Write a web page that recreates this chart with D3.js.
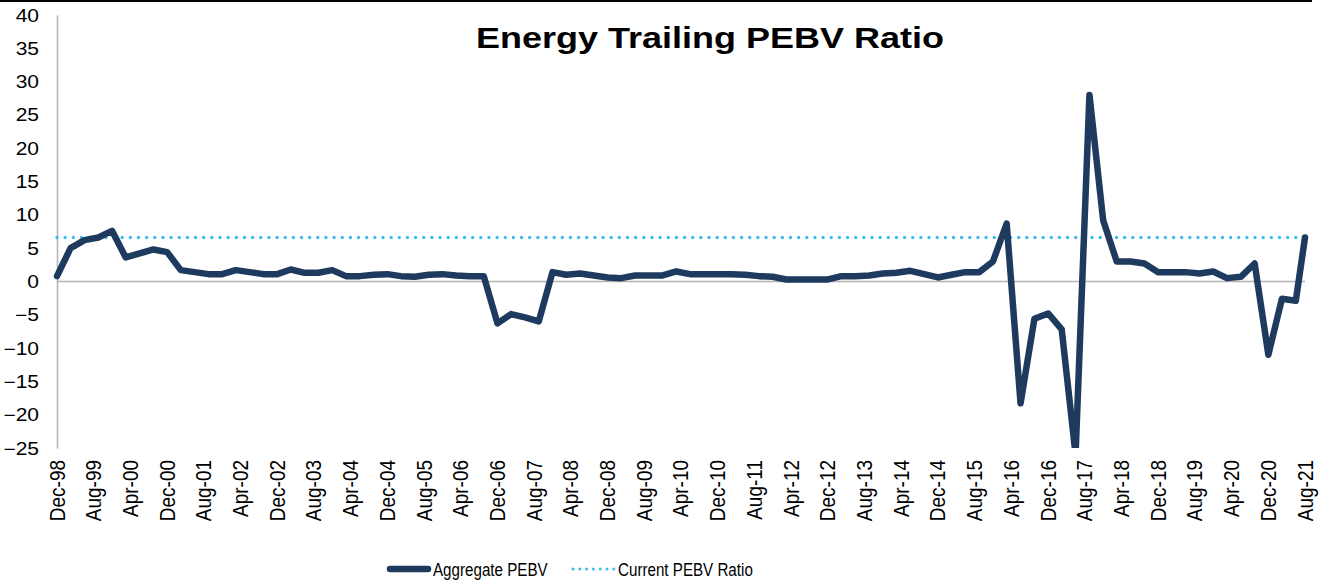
<!DOCTYPE html>
<html>
<head>
<meta charset="utf-8">
<script src="https://cdn.jsdelivr.net/npm/d3@7"></script>
<style>
  html, body { margin: 0; padding: 0; background: #fff; }
  svg { display: block; }
  text { font-family: "Liberation Sans", Arial, sans-serif; fill: #000; }
</style>
</head>
<body>
<svg id="chart" width="1323" height="581"></svg>
<script>
// ---- Data ----
const periods = [
  "Dec-98","Mar-99","Jun-99","Sep-99","Dec-99","Mar-00","Jun-00","Sep-00",
  "Dec-00","Mar-01","Jun-01","Sep-01","Dec-01","Mar-02","Jun-02","Sep-02",
  "Dec-02","Mar-03","Jun-03","Sep-03","Dec-03","Mar-04","Jun-04","Sep-04",
  "Dec-04","Mar-05","Jun-05","Sep-05","Dec-05","Mar-06","Jun-06","Sep-06",
  "Dec-06","Mar-07","Jun-07","Sep-07","Dec-07","Mar-08","Jun-08","Sep-08",
  "Dec-08","Mar-09","Jun-09","Sep-09","Dec-09","Mar-10","Jun-10","Sep-10",
  "Dec-10","Mar-11","Jun-11","Sep-11","Dec-11","Mar-12","Jun-12","Sep-12",
  "Dec-12","Mar-13","Jun-13","Sep-13","Dec-13","Mar-14","Jun-14","Sep-14",
  "Dec-14","Mar-15","Jun-15","Sep-15","Dec-15","Mar-16","Jun-16","Sep-16",
  "Dec-16","Mar-17","Jun-17","Sep-17","Dec-17","Mar-18","Jun-18","Sep-18",
  "Dec-18","Mar-19","Jun-19","Sep-19","Dec-19","Mar-20","Jun-20","Sep-20",
  "Dec-20","Mar-21","Jun-21","Aug-21"
];
const aggregatePEBV = [
  0.8, 5.0, 6.2, 6.6, 7.6, 3.6, 4.2, 4.8,
  4.4, 1.7, 1.4, 1.1, 1.1, 1.7, 1.4, 1.1,
  1.1, 1.8, 1.3, 1.3, 1.7, 0.8, 0.8, 1.0,
  1.1, 0.8, 0.7, 1.0, 1.1, 0.9, 0.8, 0.8,
  -6.3, -4.9, -5.4, -6.0, 1.4, 1.0, 1.2, 0.9,
  0.6, 0.5, 0.9, 0.9, 0.9, 1.5, 1.1, 1.1,
  1.1, 1.1, 1.0, 0.8, 0.7, 0.3, 0.3, 0.3,
  0.3, 0.8, 0.8, 0.9, 1.2, 1.3, 1.6, 1.1,
  0.6, 1.0, 1.4, 1.4, 3.0, 8.7, -18.3, -5.6,
  -4.8, -7.2, -26.0, 28.0, 9.2, 3.0, 3.0, 2.7,
  1.4, 1.4, 1.4, 1.2, 1.5, 0.5, 0.7, 2.7,
  -11.0, -2.6, -2.9, 6.6
];
const currentPEBV = 6.6;
const tickLabels = [
  "Dec-98","Aug-99","Apr-00","Dec-00","Aug-01","Apr-02","Dec-02","Aug-03",
  "Apr-04","Dec-04","Aug-05","Apr-06","Dec-06","Aug-07","Apr-08","Dec-08",
  "Aug-09","Apr-10","Dec-10","Aug-11","Apr-12","Dec-12","Aug-13","Apr-14",
  "Dec-14","Aug-15","Apr-16","Dec-16","Aug-17","Apr-18","Dec-18","Aug-19",
  "Apr-20","Dec-20","Aug-21"
];
const yTicks = [40, 35, 30, 25, 20, 15, 10, 5, 0, -5, -10, -15, -20, -25];
const title = "Energy Trailing PEBV Ratio";
const legendLabels = ["Aggregate PEBV", "Current PEBV Ratio"];

// ---- Setup ----
const parse = d3.timeParse("%b-%y");
const data = periods.map((p, i) => ({ date: parse(p), value: aggregatePEBV[i] }));
const tickDates = tickLabels.map(parse);

const svg = d3.select("#chart");
const navy = "#1f3a5f";
const cyan = "#3bbdf0";
const axisGray = "#b3b3b3";

const x = d3.scaleTime()
  .domain([tickDates[0], tickDates[tickDates.length - 1]])
  .range([57, 1305]);
const y = d3.scaleLinear().domain([-25, 40]).range([448, 15]);

// top border
svg.append("line").attr("x1", 0).attr("x2", 1312).attr("y1", 1).attr("y2", 1)
  .attr("stroke", "#000").attr("stroke-width", 2);

// Title
svg.append("text")
  .attr("transform", "translate(710,48) scale(1.2,1)")
  .attr("text-anchor", "middle")
  .style("font-weight", "bold").style("font-size", "30px")
  .text(title);

// Y axis (labels only + gray line)
const yAxis = d3.axisLeft(y).tickValues(yTicks).tickSize(0).tickPadding(0)
  .tickFormat(d3.format("d"));
const gy = svg.append("g").attr("transform", "translate(57,0)").call(yAxis);
gy.select(".domain").attr("stroke", axisGray).attr("stroke-width", 1.5);
gy.selectAll("text")
  .attr("x", null).attr("dy", null)
  .attr("text-anchor", "end")
  .attr("transform", "translate(-18,6) scale(1.2,1)")
  .style("font-size", "17.5px").attr("fill", "#000");

// X axis at bottom (labels only)
const xAxis = d3.axisBottom(x).tickValues(tickDates).tickSize(0)
  .tickFormat(d3.timeFormat("%b-%y"));
const gx = svg.append("g").attr("transform", "translate(0,448)").call(xAxis);
gx.select(".domain").remove();
gx.selectAll("text")
  .attr("y", null).attr("dy", null)
  .attr("text-anchor", "end")
  .attr("transform", "translate(7,12) scale(1.12,1) rotate(-90)")
  .style("font-size", "19px").attr("fill", "#000");

// zero line
svg.append("line")
  .attr("x1", x.range()[0]).attr("x2", x.range()[1])
  .attr("y1", y(0)).attr("y2", y(0))
  .attr("stroke", axisGray).attr("stroke-width", 1.5);

// clip
svg.append("clipPath").attr("id", "plotclip").append("rect")
  .attr("x", 40).attr("y", y(40) - 10).attr("width", 1290).attr("height", y(-25) - y(40) + 10);

// current PEBV dotted line
svg.append("line")
  .attr("x1", x.range()[0]).attr("x2", x.range()[1])
  .attr("y1", y(currentPEBV)).attr("y2", y(currentPEBV))
  .attr("stroke", cyan).attr("stroke-width", 3.4)
  .attr("stroke-linecap", "round").attr("stroke-dasharray", "0 8.15");

// aggregate line
const line = d3.line().x(d => x(d.date)).y(d => y(d.value));
svg.append("path").datum(data)
  .attr("clip-path", "url(#plotclip)")
  .attr("d", line)
  .attr("fill", "none").attr("stroke", navy).attr("stroke-width", 6.5)
  .attr("stroke-linejoin", "round").attr("stroke-linecap", "round");

// Legend
const lg = svg.append("g");
lg.append("line").attr("x1", 390).attr("x2", 428).attr("y1", 569).attr("y2", 569)
  .attr("stroke", navy).attr("stroke-width", 6.5).attr("stroke-linecap", "round");
lg.append("text").attr("transform", "translate(433,576) scale(0.82,1)")
  .style("font-size", "18.5px").text(legendLabels[0]);
lg.append("line").attr("x1", 573).attr("x2", 614).attr("y1", 569).attr("y2", 569)
  .attr("stroke", cyan).attr("stroke-width", 3)
  .attr("stroke-linecap", "round").attr("stroke-dasharray", "0 6.8");
lg.append("text").attr("transform", "translate(618,576) scale(0.82,1)")
  .style("font-size", "18.5px").text(legendLabels[1]);
</script>
</body>
</html>
